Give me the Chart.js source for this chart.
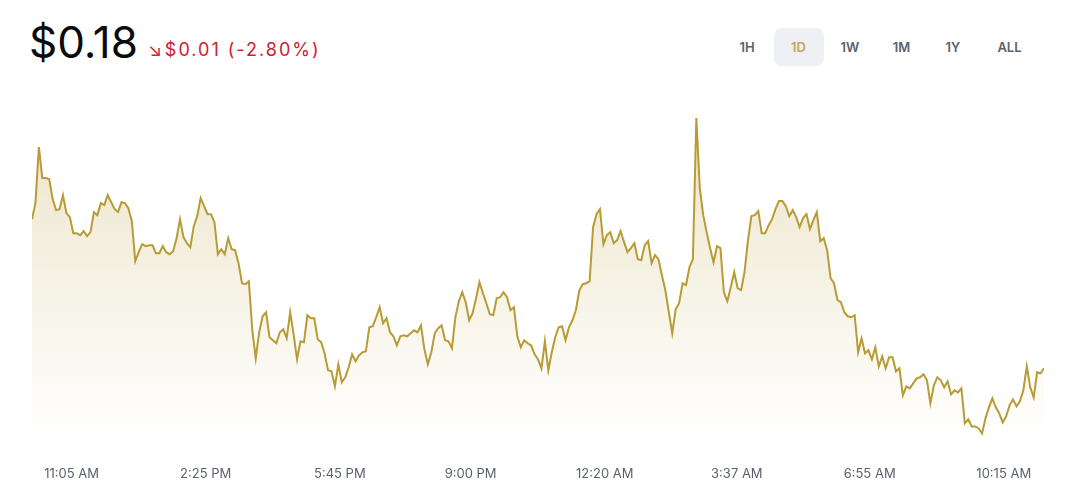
<!DOCTYPE html>
<html>
<head>
<meta charset="utf-8">
<title>Price - 1D</title>
<script src="https://cdn.jsdelivr.net/npm/chart.js@4.4.0/dist/chart.umd.min.js"></script>
<style>
  html, body { margin: 0; padding: 0; background: #fff; overflow: hidden; }
  body { width: 1069px; height: 490px; position: relative; font-family: Inter, "Noto Sans", Arial, sans-serif; }
  .head { position: absolute; left: 29px; top: 19px; display: flex; align-items: baseline; white-space: nowrap; }
  .price { font-size: 44px; line-height: 46px; color: #0a0b0d; font-weight: 400; letter-spacing: 0; }
  .change { margin-left: 10px; font-size: 18px; color: #cf202f; letter-spacing: 2px; position: relative; top: -2px; }
  .change .arrow { font-size: 18px; margin-right: 3px; letter-spacing: 0; }
  .ranges { position: absolute; left: 722px; top: 28px; display: flex; gap: 1.5px; }
  .ranges div { width: 50px; height: 38px; line-height: 38px; text-align: center; border-radius: 8px;
                font-size: 13px; font-weight: 600; color: #5b616e; }
  .ranges div.on { background: #eef0f3; color: #c3a94f; }
  .ranges div.all { width: 58px; margin-left: 1px; }
  .wrap { position: absolute; left: 32px; top: 100px; width: 1012px; height: 408px; }
</style>
</head>
<body>
<div class="head">
  <span class="price">$0.18</span>
  <span class="change"><span class="arrow">&#8600;</span>$0.01 (-2.80%)</span>
</div>
<div class="ranges">
  <div>1H</div><div class="on">1D</div><div>1W</div><div>1M</div><div>1Y</div><div class="all">ALL</div>
</div>
<div class="wrap"><canvas id="chart"></canvas></div>

<script>
// first and last sample time, and the times shown on the x axis
var startTime = '10:06 AM';
var endTime = '11:15 AM';
var tickTimes = ['11:05 AM', '2:25 PM', '5:45 PM', '9:00 PM', '12:20 AM', '3:37 AM', '6:55 AM', '10:15 AM'];

// price samples, evenly spaced in time
var prices = [
  0.18624, 0.18688, 0.18912, 0.18788, 0.18788, 0.18784, 0.18704, 0.18660, 0.18664, 0.18720,
  0.18648, 0.18632, 0.18568, 0.18568, 0.18560, 0.18576, 0.18556, 0.18572, 0.18652, 0.18640,
  0.18688, 0.18680, 0.18720, 0.18692, 0.18664, 0.18652, 0.18692, 0.18688, 0.18668, 0.18616,
  0.18456, 0.18492, 0.18524, 0.18516, 0.18520, 0.18520, 0.18488, 0.18488, 0.18516, 0.18492,
  0.18484, 0.18496, 0.18548, 0.18624, 0.18552, 0.18528, 0.18512, 0.18596, 0.18636, 0.18708,
  0.18676, 0.18644, 0.18644, 0.18612, 0.18484, 0.18504, 0.18484, 0.18548,
  0.18504, 0.18500, 0.18448, 0.18368, 0.18364, 0.18376, 0.18180, 0.18068, 0.18172, 0.18236,
  0.18252, 0.18152, 0.18140, 0.18128, 0.18172, 0.18184, 0.18148, 0.18252, 0.18164, 0.18064,
  0.18136, 0.18132, 0.18240, 0.18228, 0.18228, 0.18144, 0.18132, 0.18088, 0.18020, 0.18016,
  0.17956, 0.18044, 0.17972, 0.17992, 0.18032, 0.18084, 0.18056, 0.18080, 0.18092, 0.18096,
  0.18192, 0.18196, 0.18232, 0.18272, 0.18208, 0.18228, 0.18172, 0.18156, 0.18120, 0.18156,
  0.18160, 0.18156, 0.18168, 0.18180, 0.18172, 0.18200, 0.18104, 0.18044, 0.18092,
  0.18168, 0.18188, 0.18200, 0.18140, 0.18136, 0.18108, 0.18232, 0.18296, 0.18332, 0.18292,
  0.18220, 0.18248, 0.18308, 0.18372, 0.18328, 0.18288, 0.18244, 0.18240, 0.18308, 0.18312,
  0.18332, 0.18312, 0.18260, 0.18272, 0.18156, 0.18112, 0.18140, 0.18128, 0.18120, 0.18084,
  0.18064, 0.18028, 0.18136, 0.18020, 0.18092, 0.18152, 0.18192, 0.18196, 0.18140, 0.18192,
  0.18220, 0.18260, 0.18340, 0.18364, 0.18368, 0.18376, 0.18592, 0.18644, 0.18664, 0.18524,
  0.18560, 0.18572, 0.18528, 0.18540, 0.18576, 0.18532, 0.18492, 0.18508, 0.18528,
  0.18464, 0.18460, 0.18520, 0.18536, 0.18448, 0.18480, 0.18464, 0.18400, 0.18340, 0.18252,
  0.18168, 0.18264, 0.18288, 0.18368, 0.18360, 0.18432, 0.18464, 0.19028, 0.18748,
  0.18640, 0.18572, 0.18508, 0.18452, 0.18516, 0.18508, 0.18332, 0.18296, 0.18352, 0.18412,
  0.18348, 0.18340, 0.18412, 0.18540, 0.18636, 0.18640, 0.18656, 0.18568, 0.18568, 0.18600,
  0.18624, 0.18664, 0.18696, 0.18696, 0.18676, 0.18636, 0.18660, 0.18632, 0.18592, 0.18628,
  0.18644, 0.18584, 0.18620, 0.18652, 0.18536, 0.18548, 0.18500, 0.18388,
  0.18368, 0.18300, 0.18292, 0.18252, 0.18236, 0.18232, 0.18240, 0.18092, 0.18148, 0.18088,
  0.18100, 0.18064, 0.18112, 0.18036, 0.18076, 0.18028, 0.18072, 0.18072, 0.18016, 0.18028,
  0.17920, 0.17956, 0.17948, 0.17968, 0.17988, 0.17992, 0.18004, 0.17980, 0.17888, 0.17960,
  0.17992, 0.17980, 0.17952, 0.17976, 0.17924, 0.17940, 0.17932, 0.17948, 0.17808, 0.17824,
  0.17796, 0.17796, 0.17788, 0.17768, 0.17828, 0.17872, 0.17908, 0.17872, 0.17848, 0.17812,
  0.17836, 0.17880, 0.17904, 0.17876, 0.17896, 0.17940, 0.18036, 0.17952, 0.17912, 0.18012,
  0.18008, 0.18028
];

// clock time -> minutes, rolling over midnight so times keep increasing
function toMinutes(s, notBefore) {
  var m = s.match(/(\d+):(\d+) (AM|PM)/);
  var t = (parseInt(m[1]) % 12 + (m[3] == 'PM' ? 12 : 0)) * 60 + parseInt(m[2]);
  while (notBefore != null && t < notBefore) t += 1440;
  return t;
}

var t0 = toMinutes(startTime);
var tickMins = [];
var last = t0;
tickTimes.forEach(function(s){ last = toMinutes(s, last); tickMins.push(last); });
var t1 = toMinutes(endTime, last);

var step = (t1 - t0) / (prices.length - 1);
var points = prices.map(function(p, i){ return {x: t0 + i * step, y: p}; });

var lineColor = 'rgb(184,155,52)';

new Chart(document.getElementById('chart'), {
  type: 'line',
  data: {
    datasets: [{
      data: points,
      borderColor: lineColor,
      borderWidth: 2,
      pointRadius: 0,
      tension: 0,
      fill: 'start',
      backgroundColor: function(ctx) {
        var area = ctx.chart.chartArea;
        if (!area) return 'rgba(184,155,52,0.2)';
        var g = ctx.chart.ctx.createLinearGradient(0, area.top, 0, area.bottom);
        g.addColorStop(0, 'rgba(184,155,52,0.28)');
        g.addColorStop(1, 'rgba(184,155,52,0)');
        return g;
      }
    }]
  },
  options: {
    responsive: true,
    maintainAspectRatio: false,
    animation: false,
    layout: { padding: 0 },
    plugins: { legend: { display: false }, tooltip: { enabled: false } },
    scales: {
      x: {
        type: 'linear',
        min: t0,
        max: t1,
        grid: { display: false, drawTicks: false },
        border: { display: false },
        afterBuildTicks: function(scale) {
          scale.ticks = tickMins.map(function(v){ return {value: v}; });
        },
        afterFit: function(scale) {
          // labels sit well inside the range, no edge padding needed
          scale.paddingLeft = 0;
          scale.paddingRight = 0;
        },
        ticks: {
          autoSkip: false,
          maxRotation: 0,
          padding: 26,
          color: '#5b616e',
          font: { family: 'Inter, "Noto Sans", sans-serif', size: 13 },
          callback: function(value, index) { return tickTimes[index]; }
        }
      },
      y: {
        display: false,
        min: 0.1774,
        max: 0.1910
      }
    }
  }
});
</script>
</body>
</html>
